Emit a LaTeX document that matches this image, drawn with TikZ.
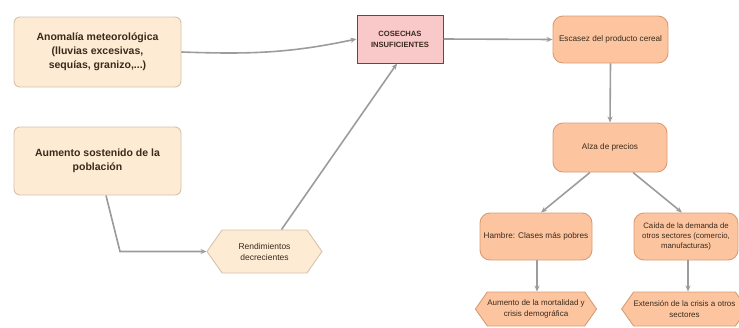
\documentclass[tikz,border=0pt]{standalone}
\usepackage{fontspec}
\setmainfont{Liberation Sans}
\usetikzlibrary{arrows.meta,shapes.symbols}
\definecolor{crema}{HTML}{FDEBD3}
\definecolor{bordecrema}{HTML}{D6C3AC}
\definecolor{rosa}{HTML}{F9C9C9}
\definecolor{bordero}{HTML}{8E3535}
\definecolor{naranja}{HTML}{FCC5A0}
\definecolor{bordena}{HTML}{D89B74}
\definecolor{linea}{HTML}{9C9C9C}
\definecolor{texto}{HTML}{3A2A1C}
\tikzset{
	causa/.style={draw=bordecrema,fill=crema,line width=0.9pt,rounded corners=6,align=center,text=texto,font=\bfseries\fontsize{10.5}{14}\selectfont},
	efecto/.style={draw=bordena,fill=naranja,line width=0.9pt,rounded corners=10,align=center,text=texto,font=\fontsize{8.2}{10.5}\selectfont},
	hexa/.style={signal,signal to=west and east,signal pointer angle=110,draw=bordena,fill=naranja,line width=0.9pt,align=center,text=texto,inner sep=0pt,font=\fontsize{8}{10.5}\selectfont},
}
\begin{document}
\begin{tikzpicture}[x=1pt,y=-1pt]
	\useasboundingbox(0,0)rectangle(739,327);
	\node(A)at(97.5,52)[causa,minimum width=167,minimum height=70]{Anomalía meteorológica\\(lluvias excesivas,\\sequías, granizo,...)};
	\node(B)at(97.5,161)[causa,minimum width=167,minimum height=68]{Aumento sostenido de la\\población};
	\node(R)at(264.5,251.5)[hexa,draw=bordecrema,fill=crema,minimum width=115,minimum height=43,font=\fontsize{8.5}{11}\selectfont]{Rendimientos\\decrecientes};
	\node(C)at(400,39)[draw=bordero,fill=rosa,line width=1pt,minimum width=86,minimum height=48,align=center,text=texto,font=\bfseries\fontsize{7.6}{11}\selectfont]{COSECHAS\\INSUFICIENTES};
	\node(D)at(610.5,39.5)[efecto,minimum width=115,minimum height=47]{Escasez del producto cereal};
	\node(E)at(610,147.5)[efecto,minimum width=114,minimum height=49]{Alza de precios};
	\node(F)at(536,236.5)[efecto,minimum width=112,minimum height=47]{Hambre: Clases más pobres};
	\node(G)at(686,236.5)[efecto,minimum width=104,minimum height=47,font=\fontsize{7.8}{10}\selectfont]{Caída de la demanda de\\otros sectores (comercio,\\manufacturas)};
	\node(H)at(536,309)[hexa,minimum width=108,minimum height=34]{Aumento de la mortalidad y\\crisis demográfica};
	\node(I)at(684.5,309)[hexa,minimum width=105,minimum height=34]{Extensión de la crisis a otros\\sectores};
	\coordinate(kB)at(120,251.5);
	\tikzset{every path/.style={-{Stealth[length=6pt,width=5pt]},draw=linea,line width=1.6pt}}
	\draw(A.east)to[out=-2,in=192](C.west);
	\draw([xshift=8.5]B.south)--(kB)--(R.west);
	\draw([xshift=17]R.north)--([xshift=-3]C.south);
	\draw(C.east)--(D.west);
	\draw(D.south)--(E.north);
	\draw([xshift=-20]E.south)--([xshift=5]F.north);
	\draw([xshift=23]E.south)--([xshift=-4]G.north);
	\draw([xshift=1]F.south)--([xshift=1]H.north);
	\draw([xshift=2]G.south)--([xshift=3.5]I.north);
\end{tikzpicture}
\end{document}
